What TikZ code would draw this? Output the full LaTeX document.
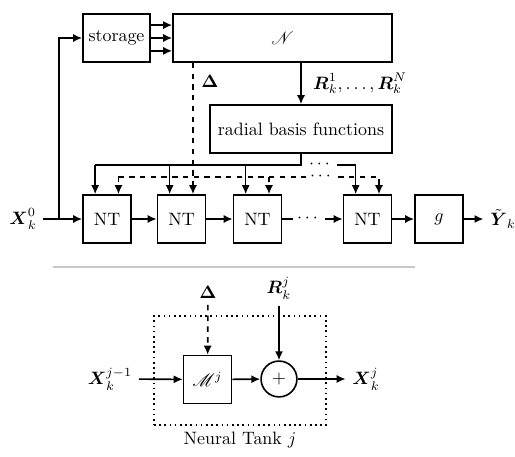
\documentclass[tikz,border=0pt]{standalone}
\usepackage{amsmath, amsfonts}
\usepackage{mathrsfs}
\usepackage{tikz}
\usetikzlibrary{calc,positioning,arrows.meta}

\tikzset{
  blk/.style={draw, inner sep=0pt, minimum width=26.8pt, minimum height=26.8pt},
  dotsnode/.style={inner sep=2pt},
}

\begin{document}
\begin{tikzpicture}[x=0.558pt, y=-0.558pt, line width=0.9pt, >={Latex[length=5pt,width=4.5pt]}]
\useasboundingbox (0,0) rectangle (515,457);

%====================================================
% CADENA PRINCIPAL
%====================================================
\node[blk, minimum width=37.4pt] (storage) at (116.5,38) {storage};
\node[blk, minimum width=122.2pt] (net) at (282.5,38) {$\mathscr{N}$};
\node[blk, minimum width=101.6pt] (rbf) at (301,129) {radial basis functions};

\node[blk] (nt1) at (107,219) {NT};
\node[blk] (nt2) at (181.5,219) {NT};
\node[blk] (nt3) at (257.5,219) {NT};
\node[blk] (nt4) at (367.5,219) {NT};
\node[blk] (g) at (439,219) {$g$};
\node (xin) at (23,219) {$\boldsymbol{X}_k^0$};
\node (yout) at (503,219) {$\tilde{\boldsymbol{Y}}_k$};
\node[dotsnode] (dots1) at (309,219) {$\cdots$};

\coordinate (split) at (59,219);
\draw[->] (xin) -- (nt1);
\draw[->] (split) |- (storage);
\foreach \s in {-7.2,0,7.2}
  \draw[->] ([yshift=\s pt]storage.east) -- ([yshift=\s pt]net.west);

\draw[->] (nt1) -- (nt2);
\draw[->] (nt2) -- (nt3);
\draw (nt3) -- (dots1);
\draw[->] (dots1) -- (nt4);
\draw[->] (nt4) -- (g);
\draw[->] (g) -- (yout);

\draw[->] (net.south -| rbf.north) -- (rbf.north)
  node[midway, right, xshift=3pt] {$\boldsymbol{R}_k^1,\dots,\boldsymbol{R}_k^N$};

% buses
\coordinate (busS) at (0,165);
\coordinate (busD) at (0,177);
\foreach \i in {1,...,4} {
  \coordinate (s\i) at ([xshift=-6.6pt]nt\i.north);
  \coordinate (d\i) at ([xshift=6.4pt]nt\i.north);
}
\node[dotsnode] (dotsS) at (321,165) {$\cdots$};
\node[dotsnode] (dotsD) at (322,177) {$\cdots$};

\draw (s1 |- busS) -- (rbf.south |- busS) -- (rbf.south);
\foreach \i in {1,2,3}
  \draw[->] (s\i |- busS) -- (s\i);
\draw[->] (dotsS.east) -| (s4);

\draw[dashed,->] (net.south -| d2) -- (d2);
\node (delta1) at (210,81) {$\boldsymbol{\Delta}$};
\draw[dashed] (d1 |- busD) -- (dotsD.west);
\foreach \i in {1,3}
  \draw[dashed,->] (d\i |- busD) -- (d\i);
\draw[dashed,->] (dotsD.east) -| (d4);

\draw[black!22, line width=1pt] (53,267) -- (415,267);

%====================================================
% TANQUE NEURONAL
%====================================================
\node[draw, dotted, minimum width=96pt, minimum height=60.8pt] (tank) at (240,370.5) {};
\node[below=0pt of tank] (tankname) {Neural Tank $j$};

\node[blk] (mblk) at (207.5,379.5) {$\mathscr{M}^j$};
\node[draw, circle, minimum size=20pt, inner sep=0pt] (sum) at (279,379) {$+$};
\node (delta2) at (208,292) {$\boldsymbol{\Delta}$};
\node (rj) at (279,288) {$\boldsymbol{R}_k^j$};
\node (xprev) at (110,379) {$\boldsymbol{X}_k^{j-1}$};
\node (xj) at (366,379) {$\boldsymbol{X}_k^j$};

\draw[dashed,->] (delta2) -- (mblk);
\draw[->] (rj) -- (sum);
\draw[->] (xprev) -- (mblk);
\draw[->] (mblk) -- (sum);
\draw[->] (sum) -- (xj);
\end{tikzpicture}
\end{document}
